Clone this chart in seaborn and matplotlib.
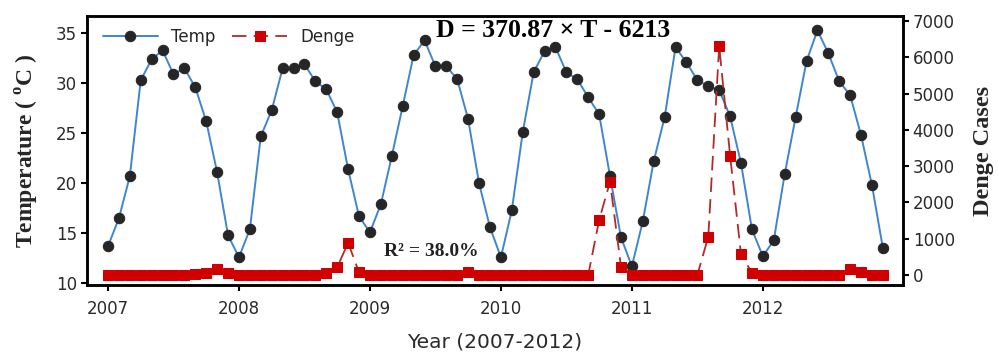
import numpy as np
import pandas as pd
import matplotlib
matplotlib.use("Agg")
import matplotlib.pyplot as plt
import seaborn as sns

# Monthly series, Jan 2007 - Dec 2012
years = [2007, 2008, 2009, 2010, 2011, 2012]
temp_2007 = [13.7, 16.5, 20.7, 30.3, 32.4, 33.3, 30.9, 31.5, 29.6, 26.2, 21.1, 14.8]
temp_2008 = [12.6, 15.4, 24.7, 27.3, 31.5, 31.5, 31.9, 30.2, 29.4, 27.1, 21.4, 16.7]
temp_2009 = [15.1, 17.9, 22.7, 27.7, 32.8, 34.3, 31.7, 31.7, 30.4, 26.4, 20.0, 15.6]
temp_2010 = [12.6, 17.3, 25.1, 31.1, 33.2, 33.6, 31.1, 30.4, 28.6, 26.9, 20.7, 14.6]
temp_2011 = [11.7, 16.2, 22.2, 26.6, 33.6, 32.1, 30.3, 29.7, 29.3, 26.7, 22.0, 15.4]
temp_2012 = [12.7, 14.3, 20.9, 26.6, 32.2, 35.3, 33.0, 30.2, 28.8, 24.8, 19.8, 13.5]

dengue_2007 = [0, 0, 0, 0, 0, 0, 0, 0, 20, 50, 160, 60]
dengue_2008 = [0, 0, 0, 0, 0, 0, 0, 0, 50, 210, 890, 70]
dengue_2009 = [0, 0, 0, 0, 0, 0, 0, 0, 0, 80, 0, 0]
dengue_2010 = [0, 0, 0, 0, 0, 0, 0, 0, 0, 1515, 2570, 230]
dengue_2011 = [0, 0, 0, 0, 0, 0, 0, 1055, 6310, 3290, 570, 60]
dengue_2012 = [0, 0, 0, 0, 0, 0, 0, 0, 160, 90, 0, 0]

temp = temp_2007 + temp_2008 + temp_2009 + temp_2010 + temp_2011 + temp_2012
dengue = dengue_2007 + dengue_2008 + dengue_2009 + dengue_2010 + dengue_2011 + dengue_2012
time = [y + m / 12 for y in years for m in range(12)]

df = pd.DataFrame({"time": time, "Temp": temp, "Denge": dengue})

sns.set_theme(style="ticks")
plt.rcParams["font.family"] = ["DejaVu Sans"]
plt.rcParams["mathtext.fontset"] = "custom"
plt.rcParams["mathtext.rm"] = "Liberation Serif:bold"
plt.rcParams["mathtext.bf"] = "Liberation Serif:bold"

fig = plt.figure(figsize=(9.98, 3.53), dpi=100)
ax = fig.add_axes([0.0872, 0.1926, 0.8176, 0.7621])
ax2 = ax.twinx()

sns.lineplot(data=df, x="time", y="Temp", ax=ax, color="#3f86cf", lw=1.4,
             marker="o", markersize=7.5, markerfacecolor="#262626",
             markeredgecolor="#262626", label="Temp", legend=False)
sns.lineplot(data=df, x="time", y="Denge", ax=ax2, color="#b22a2a", lw=1.3,
             marker="s", markersize=6.8, markerfacecolor="#d00000",
             markeredgecolor="#d00000", label="Denge", legend=False)
ax2.lines[-1].set_linestyle((0, (8, 4)))

ax.set_xlim(2006.84, 2013.07)
ax.set_ylim(9.83, 36.73)
ax2.set_ylim(-276, 7138)
ax.set_xticks(years)
ax.set_yticks([10, 15, 20, 25, 30, 35])
ax2.set_yticks(range(0, 8000, 1000))

for a in (ax, ax2):
    for s in a.spines.values():
        s.set_visible(True)
        s.set_linewidth(1.8)
        s.set_color("black")
    a.tick_params(direction="out", length=4, width=1.5, labelsize=12,
                  colors="black", labelcolor="#2a2a2a", pad=3)
ax.tick_params(axis="x", pad=7)

ax.set_xlabel("Year (2007-2012)", fontsize=14.5, color="#2a2a2a", labelpad=10)
ax.set_ylabel(r"Temperature ( $^{\mathbf{o}}$C )", fontsize=17,
              family="Liberation Serif", weight="bold", labelpad=11)
ax2.set_ylabel("Denge Cases", fontsize=17.5, family="Liberation Serif",
               weight="bold", labelpad=13)

ax2.text(0.571, 0.945, "D = 370.87 × T - 6213", transform=ax.transAxes,
         ha="center", va="center", fontsize=18.5, family="Liberation Serif",
         weight="bold", color="black")
ax2.text(0.4216, 0.125, "R² = 38.0%", transform=ax.transAxes,
         ha="center", va="center", fontsize=14, family="Liberation Serif",
         weight="bold", color="#222222")

h1, l1 = ax.get_legend_handles_labels()
h2, l2 = ax2.get_legend_handles_labels()
ax2.legend(h1 + h2, l1 + l2, loc="upper left", ncol=2, frameon=False,
           fontsize=12, handlelength=3.3, columnspacing=1.0,
           borderaxespad=0.3, bbox_to_anchor=(0.005, 1.0))

fig.savefig("out.png", dpi=100)
